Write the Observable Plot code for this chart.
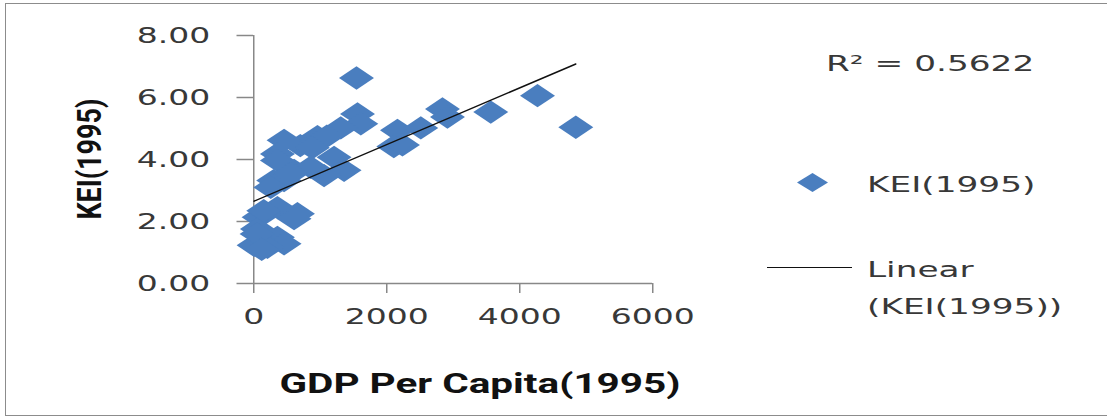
<!DOCTYPE html>
<html>
<head>
<meta charset="utf-8">
<script src="https://cdn.jsdelivr.net/npm/d3@7"></script>
<script src="https://cdn.jsdelivr.net/npm/@observablehq/plot@0.6"></script>
<style>
  html, body { margin: 0; padding: 0; background: #fff; }
  #wrap { position: relative; width: 1107px; height: 419px; overflow: hidden; background: #fff; }
  #frame { position: absolute; left: 5px; top: 3px; width: 1200px; height: 411px;
           border: 1.5px solid #8c8c8c; border-right: none; }
  #chart { position: absolute; left: 0; top: 0; }
  .t { position: absolute; font-family: "DejaVu Sans", sans-serif; font-size: 22px; line-height: 22px;
       color: #383838; white-space: nowrap; transform: scaleX(1.56); transform-origin: 0 0; }
  .ttl { position: absolute; font-family: Roboto, "DejaVu Sans", sans-serif; font-weight: bold;
         font-size: 27px; line-height: 27px; color: #111; white-space: nowrap; }
</style>
</head>
<body>
<div id="wrap">
  <div id="frame"></div>
  <div id="chart"></div>
  <div class="t" style="left:826px; top:53px;">R² = 0.5622</div>
  <svg style="position:absolute; left:797px; top:173px;" width="31" height="19">
    <polygon points="0,9.5 15.5,0 31,9.5 15.5,19" fill="#4a7ebf"></polygon>
  </svg>
  <div class="t" style="left:867px; top:174px;">KEI(1995)</div>
  <div style="position:absolute; left:767px; top:267px; width:85px; height:0; border-top:1.5px solid #111;"></div>
  <div class="t" style="left:867px; top:259px;">Linear</div>
  <div class="t" style="left:867px; top:296px;">(KEI(1995))</div>
  <div class="ttl" style="left:480px; top:371px; transform: translateX(-50%) scaleX(1.5);">GDP Per Capita(1995)</div>
  <div class="ttl" style="left:91px; top:159px; transform: translate(-50%,-50%) rotate(-90deg) scaleY(1.2);">KEI(1995)</div>
</div>
<script>
// GDP per capita (1995) and KEI (1995)
const gdp = [1545, 1560, 1610, 1308, 958, 1100, 700, 880, 456, 356,
             356, 1208, 1358, 1057, 456, 300, 606, 857, 256, 556,
             2161, 2106, 2236, 2512, 2838, 2913, 3564, 4267, 4843,
             356, 657, 80, 55, 356, 5, 456, 206, 150, 606, 50, 120];
const kei = [6.63, 5.47, 5.15, 5.02, 4.74, 4.75, 4.45, 4.38, 4.62, 4.18,
             3.97, 4.07, 3.65, 3.48, 3.32, 3.32, 3.65, 3.75, 3.10, 3.54,
             4.94, 4.42, 4.47, 5.02, 5.63, 5.37, 5.53, 6.06, 5.04,
             2.45, 2.25, 2.14, 1.76, 1.49, 1.23, 1.28, 1.17, 2.35, 2.09, 1.60, 1.10];
const xTicks = [0, 2000, 4000, 6000];
const yTicks = [0, 2, 4, 6, 8];

const points = gdp.map((x, i) => ({x, y: kei[i]}));

const S = 1.5;            // horizontal stretch of the reference picture
const W = 1107 / S;
const H = 419;

const chart = Plot.plot({
  width: W,
  height: H,
  marginLeft: 253 / S,
  marginRight: W - 652 / S,
  marginTop: 35,
  marginBottom: 136,
  style: {fontFamily: "DejaVu Sans, sans-serif", fontSize: "22px", background: "transparent", overflow: "visible"},
  x: {domain: [0, 6000]},
  y: {domain: [0, 8]},
  marks: [
    Plot.axisY({ticks: yTicks, tickFormat: d => d.toFixed(2), tickSize: 11, tickPadding: 18,
                stroke: "#888", strokeWidth: 1.5, fill: "#383838", label: null, fontSize: 22}),
    Plot.axisX({ticks: xTicks, tickFormat: d => String(d), tickSize: 10, tickPadding: 15,
                stroke: "#888", strokeWidth: 1.5, fill: "#383838", label: null, fontSize: 22}),
    Plot.ruleX([0], {stroke: "#888", strokeWidth: 1.5}),
    Plot.ruleY([0], {stroke: "#888", strokeWidth: 1.5}),
    Plot.dot(points, {x: "x", y: "y", symbol: "diamond2", r: 10.5, fill: "#4a7ebf", stroke: "none"}),
    Plot.linearRegressionY(points, {x: "x", y: "y", ci: 0, stroke: "#111", strokeWidth: 1.5})
  ]
});

chart.setAttribute("viewBox", `0 0 ${W} ${H}`);
chart.setAttribute("width", 1107);
chart.setAttribute("height", H);
chart.setAttribute("preserveAspectRatio", "none");
chart.style.width = "1107px";
chart.style.height = H + "px";
chart.style.maxWidth = "none";
chart.querySelectorAll("line, path").forEach(el => {
  if (el.getAttribute("fill") !== "#4a7ebf") el.style.vectorEffect = "non-scaling-stroke";
});
chart.querySelectorAll("g[aria-label='linear-regression'] path, g[aria-label='rule'] line, g[aria-label^='y-axis tick'] path, g[aria-label^='x-axis tick'] path")
  .forEach(el => el.style.vectorEffect = "non-scaling-stroke");
document.getElementById("chart").appendChild(chart);
</script>
</body>
</html>
